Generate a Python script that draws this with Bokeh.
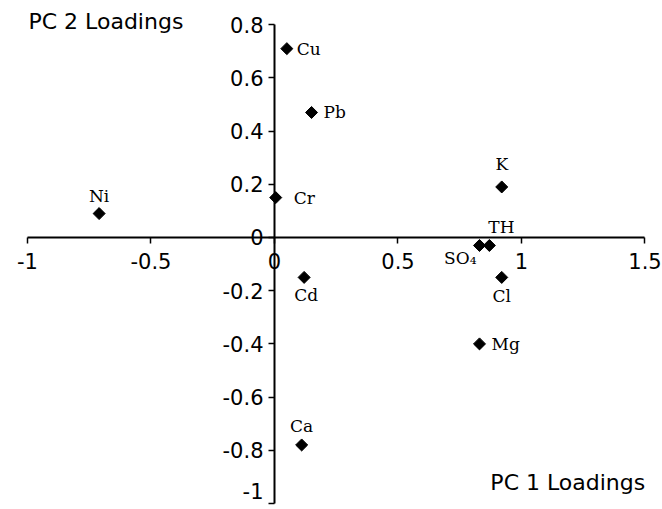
from bokeh.plotting import figure
from bokeh.models import ColumnDataSource, FixedTicker, LinearAxis, Label, Range1d
from bokeh.core.properties import value
from bokeh.embed import file_html
from bokeh.resources import INLINE
import math

# ---- data ----
elements = ["Cu", "Pb", "Cr", "Ni", "K", "TH", "SO\u2084", "Cl", "Mg", "Ca", "Cd"]
pc1 = [0.05, 0.15, 0.005, -0.71, 0.92, 0.87, 0.83, 0.92, 0.83, 0.11, 0.12]
pc2 = [0.71, 0.47, 0.15, 0.09, 0.19, -0.03, -0.03, -0.15, -0.40, -0.78, -0.15]

x_ticks = [-1, -0.5, 0, 0.5, 1, 1.5]
x_tick_labels = ["-1", "-0.5", "0", "0.5", "1", "1.5"]
y_ticks = [-1, -0.8, -0.6, -0.4, -0.2, 0, 0.2, 0.4, 0.6, 0.8]
y_tick_labels = ["-1", "-0.8", "-0.6", "-0.4", "-0.2", "0", "0.2", "0.4", "0.6", "0.8"]

x_title = "PC 1 Loadings"
y_title = "PC 2 Loadings"

# label placement (screen offsets, px) per element
lab_dx = [10, 12, 18, 0, 0, 12, -3, 0, 12, 0, 2]
lab_dy = [0, 0, 0, -18, -23, -18, 13, 19, 0, -19, 18]
lab_align = ["left", "left", "left", "center", "center", "center", "right",
             "center", "left", "center", "center"]

W, H = 662, 509
p = figure(width=W, height=H, output_backend="svg", toolbar_location=None,
           x_axis_type=None, y_axis_type=None,
           x_range=Range1d(-1.1093, 1.5709), y_range=Range1d(-1.0226, 0.8910),
           min_border=0, min_border_left=0, min_border_right=0,
           min_border_top=0, min_border_bottom=0)
p.outline_line_color = None
p.xgrid.visible = False
p.ygrid.visible = False
p.background_fill_color = "white"
p.border_fill_color = "white"

font = "DejaVu Sans"
tick_font_size = "21px"

# the lowest y tick label sits on the bottom edge; it is drawn separately,
# lifted so that it stays inside the picture
y_overrides = {t: s for t, s in zip(y_ticks, y_tick_labels)}
y_overrides[y_ticks[0]] = ""

xaxis = LinearAxis(fixed_location=0, bounds=(-1, 1.5),
                   ticker=FixedTicker(ticks=x_ticks, minor_ticks=[]),
                   major_label_overrides={t: s for t, s in zip(x_ticks, x_tick_labels)})
yaxis = LinearAxis(fixed_location=0, bounds=(-1, 0.8),
                   ticker=FixedTicker(ticks=y_ticks, minor_ticks=[]),
                   major_label_overrides=y_overrides)
for ax in (xaxis, yaxis):
    ax.axis_line_color = "black"
    ax.axis_line_width = 2
    ax.major_tick_line_color = "black"
    ax.major_tick_line_width = 1.5
    ax.major_tick_out = 6
    ax.major_tick_in = 0
    ax.minor_tick_line_color = None
    ax.major_label_text_font = font
    ax.major_label_text_font_size = tick_font_size
    ax.major_label_text_color = "black"
xaxis.major_label_standoff = 10
yaxis.major_label_standoff = 5
p.add_layout(xaxis, "below")
p.add_layout(yaxis, "left")

p.add_layout(Label(x=0, y=y_ticks[0], x_offset=-11, y_offset=4, text=y_tick_labels[0],
                   text_font=font, text_font_size=tick_font_size,
                   text_align="right", text_baseline="bottom", text_color="black"))

src = ColumnDataSource(dict(x=pc1, y=pc2, name=elements, dx=lab_dx, dy=lab_dy, al=lab_align))
p.scatter(x="x", y="y", source=src, marker="square", size=8.5, angle=math.pi / 4,
          fill_color="black", line_color="black")
p.text(x="x", y="y", text="name", source=src, x_offset="dx", y_offset="dy",
       text_align="al", text_baseline="middle",
       text_font=value("DejaVu Serif"), text_font_size="17px", text_color="black")

p.add_layout(Label(x=-0.996, y=0.812, text=y_title, text_font=font,
                   text_font_size="22px", text_baseline="middle", text_align="left",
                   text_color="black"))
p.add_layout(Label(x=0.874, y=-0.921, text=x_title, text_font=font,
                   text_font_size="22px", text_baseline="middle", text_align="left",
                   text_color="black"))

open("out.html", "w").write(file_html(p, INLINE))
